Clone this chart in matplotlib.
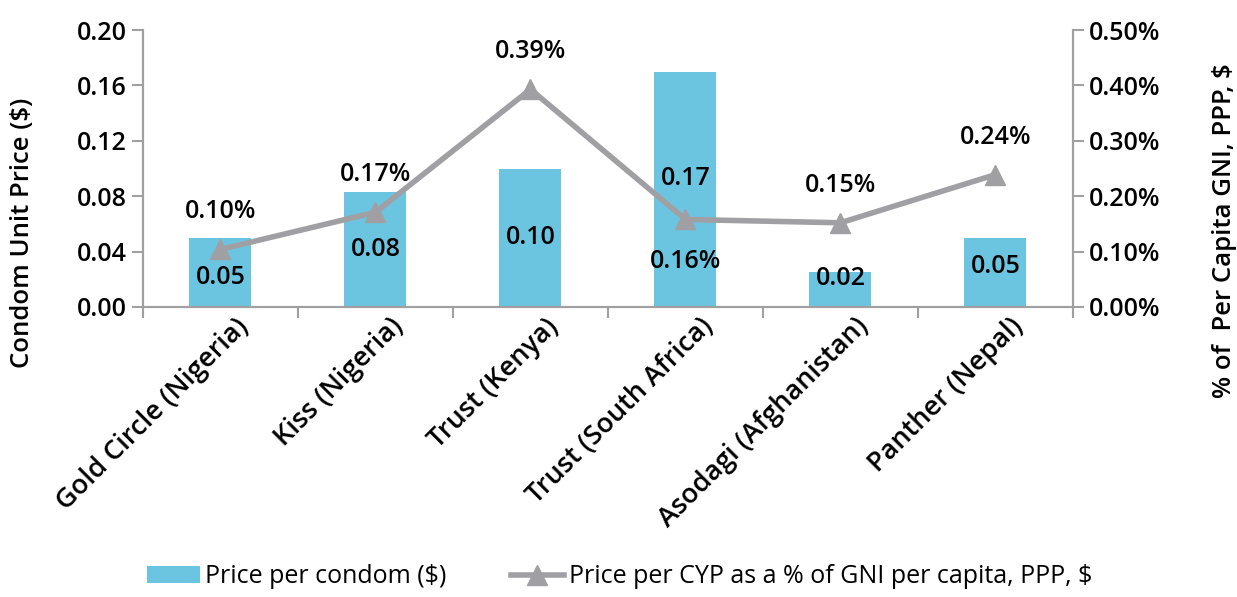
import numpy as np
import matplotlib.pyplot as plt
from matplotlib.transforms import ScaledTranslation

plt.rcParams['font.family'] = ['Open Sans', 'DejaVu Sans']

# data
brands = ["Gold Circle (Nigeria)", "Kiss (Nigeria)", "Trust (Kenya)",
          "Trust (South Africa)", "Asodagi (Afghanistan)", "Panther (Nepal)"]
price_per_condom = [0.05, 0.083, 0.10, 0.17, 0.025, 0.05]
bar_labels = ["0.05", "0.08", "0.10", "0.17", "0.02", "0.05"]
pct_gni = [0.104, 0.171, 0.393, 0.158, 0.152, 0.239]
pct_labels = ["0.10%", "0.17%", "0.39%", "0.16%", "0.15%", "0.24%"]

bar_color = "#6BC5E0"
line_color = "#A0A0A4"
axis_color = "#A0A0A0"

fig = plt.figure(figsize=(12.37, 5.97), dpi=100)
ax = fig.add_axes([0.1156, 0.4858, 0.7518, 0.4639])
ax2 = ax.twinx()

x = np.arange(len(brands))
bars = ax.bar(x, price_per_condom, width=0.4, color=bar_color, zorder=1,
              label="Price per condom ($)")
ax.set_xlim(-0.5, len(brands) - 0.5)
ax.set_ylim(0, 0.20)
ax.set_yticks(np.arange(0, 0.201, 0.04))
ax.set_yticklabels(["%.2f" % v for v in np.arange(0, 0.201, 0.04)])

# bar value labels, mostly centred in the bar
nudge = [-4, 0, 0, 8, 8, 4]
for xi, v, lab, dy in zip(x, price_per_condom, bar_labels, nudge):
    ax.annotate(lab, (xi, v / 2), xytext=(0, dy), textcoords="offset points",
                ha="center", va="center", fontsize=18, fontweight="semibold",
                color="black")

line, = ax2.plot(x, pct_gni, color=line_color, lw=4, marker="^",
                 markersize=14, zorder=3,
                 label="Price per CYP as a % of GNI per capita, PPP, $")
ax2.set_ylim(0, 0.5)
ticks2 = np.arange(0, 0.501, 0.1)
ax2.set_yticks(ticks2)
ax2.set_yticklabels(["%.2f%%" % v for v in ticks2])

for i, (xi, v, lab) in enumerate(zip(x, pct_gni, pct_labels)):
    dy = -30 if i == 3 else 27
    ax2.annotate(lab, (xi, v), xytext=(0, dy), textcoords="offset points",
                 ha="center", va="center", fontsize=18, fontweight="semibold",
                 color="black")

# ticks between categories on x
ax.set_xticks(np.arange(-0.5, len(brands), 1.0))
ax.set_xticklabels([])
ax.set_xticks(x, minor=True)
ax.set_xticklabels(brands, minor=True, rotation=45, ha="right",
                   rotation_mode="anchor", fontsize=19.5, fontweight="semibold")
ax.tick_params(axis="x", which="minor", length=0, pad=4)
offset = ScaledTranslation(10 / 72, 0, fig.dpi_scale_trans)
for lbl in ax.get_xticklabels(minor=True):
    lbl.set_transform(lbl.get_transform() + offset)
ax.tick_params(axis="x", which="major", length=8, color=axis_color, width=1.5,
               direction="out")

for a in (ax, ax2):
    a.spines["top"].set_visible(False)
    for s in ("left", "right", "bottom"):
        a.spines[s].set_color(axis_color)
        a.spines[s].set_linewidth(1.5)
ax.tick_params(axis="y", length=8, color=axis_color, width=1.5, labelsize=18)
ax2.tick_params(axis="y", length=8, color=axis_color, width=1.5, labelsize=18)
for lbl in ax.get_yticklabels() + ax2.get_yticklabels():
    lbl.set_fontweight("semibold")

ax.set_ylabel("Condom Unit Price ($)", fontsize=18.5, fontweight="semibold")
ax.yaxis.set_label_coords(-0.116, 0.267)
ax2.set_ylabel("% of  Per Capita GNI, PPP, $", fontsize=18.5,
               fontweight="semibold", rotation=90)
ax2.yaxis.set_label_coords(1.149, 0.274)

fig.legend(handles=[bars, line], loc="lower center",
           bbox_to_anchor=(0.501, -0.025), ncol=2, frameon=False, fontsize=18,
           handlelength=2.1, columnspacing=2.6, handletextpad=0.2)

fig.savefig("out.png", dpi=100)
